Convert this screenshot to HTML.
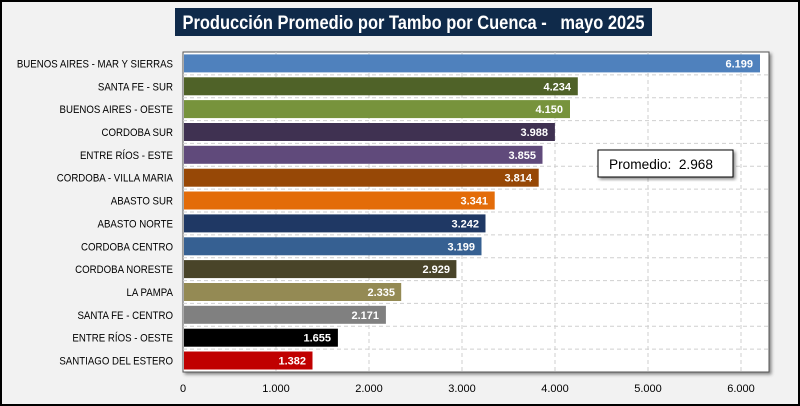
<!DOCTYPE html>
<html><head><meta charset="utf-8"><style>
html,body{margin:0;padding:0;background:#fff}
svg{display:block;font-family:"Liberation Sans",sans-serif}
</style></head><body>
<svg width="800" height="406" viewBox="0 0 800 406" xmlns="http://www.w3.org/2000/svg">
<defs><filter id="sh" x="-5%" y="-5%" width="115%" height="120%"><feDropShadow dx="2" dy="2" stdDeviation="1.5" flood-color="#000" flood-opacity="0.45"/></filter></defs>
<rect x="1" y="1" width="798" height="404" fill="#f2f2f2" stroke="#000" stroke-width="2"/>
<rect x="175" y="8" width="477" height="28" fill="#0f2a4a"/>
<text x="413.5" y="29" text-anchor="middle" fill="#fff" font-size="19" font-weight="bold" textLength="462" lengthAdjust="spacingAndGlyphs" xml:space="preserve">Producción Promedio por Tambo por Cuenca -   mayo 2025</text>
<rect x="183" y="52" width="586" height="320" fill="#fff" stroke="#555" stroke-width="1" filter="url(#sh)"/>
<g stroke="#cfcfcf" stroke-dasharray="4,3" stroke-width="1">
<line x1="276" y1="52" x2="276" y2="372"/><line x1="369" y1="52" x2="369" y2="372"/><line x1="462" y1="52" x2="462" y2="372"/><line x1="555" y1="52" x2="555" y2="372"/><line x1="648" y1="52" x2="648" y2="372"/><line x1="741" y1="52" x2="741" y2="372"/>
<line x1="183" y1="74.9" x2="769" y2="74.9"/><line x1="183" y1="97.7" x2="769" y2="97.7"/><line x1="183" y1="120.6" x2="769" y2="120.6"/><line x1="183" y1="143.4" x2="769" y2="143.4"/><line x1="183" y1="166.3" x2="769" y2="166.3"/><line x1="183" y1="189.1" x2="769" y2="189.1"/><line x1="183" y1="212" x2="769" y2="212"/><line x1="183" y1="234.9" x2="769" y2="234.9"/><line x1="183" y1="257.7" x2="769" y2="257.7"/><line x1="183" y1="280.6" x2="769" y2="280.6"/><line x1="183" y1="303.4" x2="769" y2="303.4"/><line x1="183" y1="326.3" x2="769" y2="326.3"/><line x1="183" y1="349.1" x2="769" y2="349.1"/>
</g>
<g font-size="11" fill="#000" text-anchor="end" transform="translate(173,0) scale(0.88,1) translate(-173,0)">
<text x="173" y="67.5">BUENOS AIRES - MAR Y SIERRAS</text>
<text x="173" y="90.3">SANTA FE - SUR</text>
<text x="173" y="113.2">BUENOS AIRES - OESTE</text>
<text x="173" y="136">CORDOBA SUR</text>
<text x="173" y="158.9">ENTRE RÍOS - ESTE</text>
<text x="173" y="181.7">CORDOBA - VILLA MARIA</text>
<text x="173" y="204.6">ABASTO SUR</text>
<text x="173" y="227.5">ABASTO NORTE</text>
<text x="173" y="250.3">CORDOBA CENTRO</text>
<text x="173" y="273.2">CORDOBA NORESTE</text>
<text x="173" y="296">LA PAMPA</text>
<text x="173" y="318.9">SANTA FE - CENTRO</text>
<text x="173" y="341.7">ENTRE RÍOS - OESTE</text>
<text x="173" y="364.6">SANTIAGO DEL ESTERO</text>
</g>
<g>
<rect x="184" y="54.4" width="576" height="18" fill="#4f81bd"/>
<rect x="184" y="77.3" width="393.8" height="18" fill="#4f6228"/>
<rect x="184" y="100.1" width="386" height="18" fill="#77933c"/>
<rect x="184" y="123" width="370.9" height="18" fill="#3f3151"/>
<rect x="184" y="145.8" width="358.5" height="18" fill="#604a7b"/>
<rect x="184" y="168.7" width="354.7" height="18" fill="#974806"/>
<rect x="184" y="191.5" width="310.7" height="18" fill="#e36c09"/>
<rect x="184" y="214.4" width="301.5" height="18" fill="#1f3864"/>
<rect x="184" y="237.3" width="297.5" height="18" fill="#366092"/>
<rect x="184" y="260.1" width="272.4" height="18" fill="#494429"/>
<rect x="184" y="283" width="217.2" height="18" fill="#948a54"/>
<rect x="184" y="305.8" width="201.9" height="18" fill="#808080"/>
<rect x="184" y="328.7" width="153.9" height="18" fill="#000"/>
<rect x="184" y="351.5" width="128.5" height="18" fill="#c00000"/>
</g>
<g font-size="11" font-weight="bold" fill="#fff" text-anchor="end">
<text x="753" y="67.5">6.199</text>
<text x="571" y="90.3">4.234</text>
<text x="563" y="113.2">4.150</text>
<text x="548" y="136">3.988</text>
<text x="536" y="158.9">3.855</text>
<text x="532" y="181.7">3.814</text>
<text x="488" y="204.6">3.341</text>
<text x="479" y="227.5">3.242</text>
<text x="475" y="250.3">3.199</text>
<text x="450" y="273.2">2.929</text>
<text x="395" y="296">2.335</text>
<text x="379" y="318.9">2.171</text>
<text x="331" y="341.7">1.655</text>
<text x="306" y="364.6">1.382</text>
</g>
<g font-size="11" fill="#000" text-anchor="middle">
<text x="183" y="392">0</text><text x="276" y="392">1.000</text><text x="369" y="392">2.000</text><text x="462" y="392">3.000</text><text x="555" y="392">4.000</text><text x="648" y="392">5.000</text><text x="741" y="392">6.000</text>
</g>
<rect x="598" y="150" width="135" height="27" fill="#fff" stroke="#000" stroke-width="1" filter="url(#sh)"/>
<text x="609" y="169" font-size="14" fill="#000" textLength="104" lengthAdjust="spacingAndGlyphs" xml:space="preserve">Promedio:  2.968</text>
</svg>
</body></html>
